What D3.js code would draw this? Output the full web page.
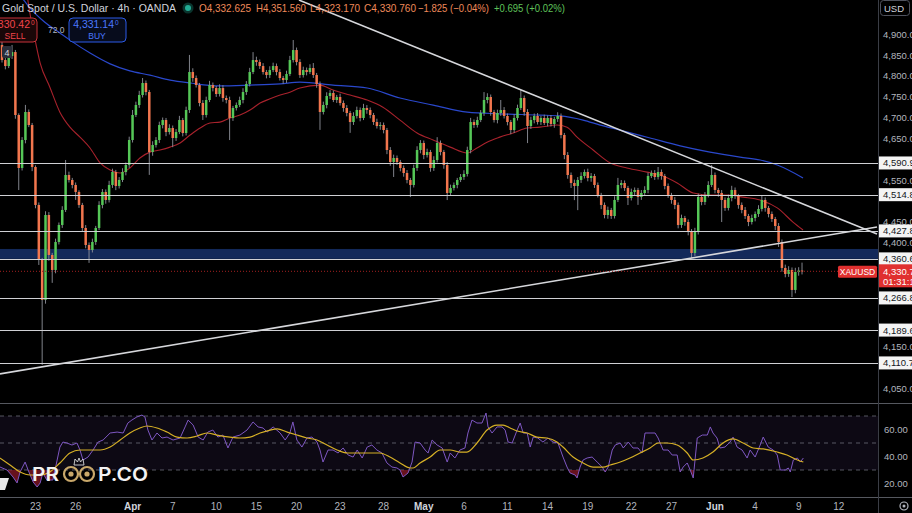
<!DOCTYPE html>
<html>
<head>
<meta charset="utf-8">
<script src="https://cdn.jsdelivr.net/npm/d3@7"></script>
<style>
  body { margin: 0; background: #000; }
  svg { display: block; font-family: "Liberation Sans", Arial, sans-serif; }
</style>
</head>
<body>
<div id="chart"></div>
<script>
// Chart frame
const W = 912, H = 513;
const PLOT_R = 878;          // right edge of the plot, price axis starts here
const MAIN_BOTTOM = 403;
const RSI_TOP = 404, RSI_BOTTOM = 497;

// ---- data ----
const open0 = 4874.2;
const closes = [4838.2,4823.8,4847.8,4857.4,4706.2,4578.9,4646.1,4713.4,4682.1,4581.3,
4490.1,4358.0,4262.0,4466.0,4370.0,4334.0,4401.2,4442.0,4478.1,4562.1,
4550.1,4538.1,4521.3,4490.1,4434.8,4394.0,4382.0,4401.2,4434.8,4490.1,
4521.3,4502.1,4538.1,4569.3,4535.7,4550.1,4569.3,4586.1,4646.1,4706.2,
4730.2,4754.2,4783.0,4761.4,4617.3,4634.1,4646.1,4682.1,4694.1,4665.3,
4674.9,4650.9,4665.3,4694.1,4662.9,4718.2,4809.4,4795.0,4778.2,4735.0,
4706.2,4742.2,4778.2,4770.9,4756.6,4770.9,4747.0,4742.2,4699.0,4723.0,
4730.2,4742.2,4761.4,4780.6,4809.4,4838.2,4833.4,4823.8,4809.4,4802.2,
4814.2,4823.8,4809.4,4795.0,4790.2,4804.6,4838.2,4862.2,4833.4,4802.2,
4814.2,4809.4,4819.0,4802.2,4780.6,4713.4,4730.2,4751.8,4759.0,4742.2,
4749.4,4735.0,4723.0,4711.0,4689.3,4703.8,4718.2,4699.0,4723.0,4718.2,
4706.2,4689.3,4679.7,4682.1,4670.1,4622.1,4593.3,4602.9,4593.3,4578.9,
4566.9,4550.1,4538.1,4578.9,4622.1,4638.9,4610.1,4617.3,4578.9,4598.1,
4638.9,4617.3,4586.1,4518.9,4530.9,4538.1,4550.1,4557.3,4564.5,4622.1,
4689.3,4682.1,4694.1,4711.0,4742.2,4749.4,4713.4,4694.1,4711.0,4718.2,
4703.8,4689.3,4670.1,4699.0,4723.0,4747.0,4713.4,4679.7,4694.1,4703.8,
4689.3,4699.0,4686.9,4699.0,4684.5,4696.6,4703.8,4658.1,4610.1,4562.1,
4542.9,4535.7,4550.1,4559.7,4569.3,4554.9,4559.7,4538.1,4514.1,4490.1,
4466.0,4478.1,4463.6,4502.1,4538.1,4542.9,4530.9,4506.9,4521.3,4526.1,
4509.3,4518.9,4526.1,4559.7,4566.9,4557.3,4569.3,4559.7,4535.7,4514.1,
4502.1,4490.1,4442.0,4458.8,4449.2,4425.2,4374.8,4425.2,4509.3,4497.3,
4514.1,4538.1,4562.1,4526.1,4518.9,4502.1,4482.9,4506.9,4526.1,4511.7,
4490.1,4478.1,4463.6,4449.2,4458.8,4468.4,4480.5,4502.1,4482.9,4468.4,
4456.4,4439.6,4401.2,4338.8,4324.4,4334.0,4286.0,4329.2,4332.6,4330.8];

// wick length above the body top / below the body bottom
const wickUp = [10,6,8,17,5,4,7,17,6,5, 4,6,5,9,7,5,8,6,9,36, 8,5,6,4,5,7,6,8,5,9,
7,6,10,8,5,7,9,6,8,12, 8,10,12,6,5,9,7,8,6,5, 9,6,7,10,5,8,41,9,6,5,
7,8,10,6,5,9,7,6,8,5, 6,8,9,7,10,19,8,6,7,5, 9,8,6,7,5,8,10,24,6,7,
8,6,9,12,5,6,8,9,7,6, 5,8,6,7,5,9,8,6,10,7, 6,5,8,7,6,5,7,8,6,5,
6,7,5,8,9,7,6,8,5,9, 14,6,5,7,8,6,5,7,9,8, 10,6,8,7,19,9,6,5,8,24,
7,6,5,9,8,19,6,7,8,6, 7,5,8,6,7,5,9,6,5,7, 6,8,7,9,6,8,7,5,6,5,
6,8,5,9,17,7,6,5,8,6, 5,7,9,8,6,7,12,6,5,6, 5,7,6,8,5,6,7,10,8,6,
7,9,24,6,5,7,6,8,10,6, 5,6,7,5,8,6,9,10,6,5, 6,5,7,6,8,9,6,10,8,19];
const wickDn = [6,8,5,7,9,53,6,8,5,10, 8,12,156,9,14,31,8,6,7,5, 6,8,19,7,9,8,31,6,7,5,
8,9,6,7,10,6,5,8,7,6, 5,7,6,8,55,9,6,7,8,10, 6,22,7,5,8,6,7,9,6,8,
12,6,5,8,7,6,9,8,53,7, 6,5,8,7,6,5,9,7,6,8, 7,5,8,6,9,7,5,6,8,7,
6,8,5,7,9,43,6,8,7,5, 7,6,9,8,26,7,6,8,5,9, 8,7,6,9,8,10,9,36,7,8,
9,8,29,6,7,8,10,6,9,7, 6,8,9,17,7,6,8,5,7,6, 8,7,6,5,7,8,9,6,8,7,
6,8,10,7,6,5,9,41,7,8, 6,7,5,8,6,9,7,8,10,9, 12,34,58,7,6,8,9,7,6,10,
8,9,7,6,5,8,7,17,6,8, 19,7,6,8,5,7,6,9,8,7, 9,10,8,7,9,8,12,7,6,8,
7,6,5,8,9,53,7,6,8,7, 9,8,7,10,6,8,7,6,9,8, 7,10,12,9,8,7,17,8,9,7.6];

// moving averages [bar, price]
const maRed = [[7.5,4994],[8.7,4934],[9.3,4910],[11.4,4831],[14.3,4773],[17.3,4713],[20.3,4677],[23.3,4653],
[26.3,4627],[29.3,4591],[32.3,4574],[35.3,4567],[38.2,4579],[41.2,4603],[44.2,4617],[47.2,4622],[50.2,4629],
[53.2,4639],[56.2,4658],[59.2,4675],[62.1,4687],[65.1,4689],[68.1,4699],[71.1,4706],[74.1,4718],[77.1,4735],
[80.1,4745],[83.1,4754],[86.0,4761],[89.0,4771],[95.0,4778],[98.9,4766],[104.0,4754],[109.1,4742],[113.8,4725],
[118.9,4694],[124.0,4663],[128.8,4646],[133.9,4629],[139.0,4615],[141.9,4627],[144.9,4641],[148.7,4653],
[152.7,4663],[156.9,4675],[160.7,4677],[165.8,4682],[168.8,4677],[171.8,4653],[176.6,4622],[181.7,4591],
[186.7,4579],[192.7,4569],[196.6,4562],[201.7,4543],[206.5,4519],[211.5,4514],[216.6,4514],[221.4,4509],
[226.5,4502],[231.6,4483],[236.3,4449],[239.3,4430]];
const maBlue = [[5.4,4994],[8.4,4963],[12.8,4929],[17.3,4903],[20.3,4886],[26.3,4855],[32.3,4829],[38.2,4812],
[44.2,4802],[50.2,4790],[56.2,4783],[65.1,4776],[74.1,4778],[83.1,4781],[89.0,4785],[98.9,4778],[109.1,4771],
[118.9,4747],[128.8,4730],[139.0,4713],[148.8,4709],[160.7,4706],[166.7,4704],[173.6,4694],[178.7,4682],
[184.6,4670],[193.6,4651],[202.6,4632],[211.5,4617],[220.5,4605],[226.5,4598],[231.6,4586],[239.3,4555]];

// horizontal levels, zone and trendlines
const levels = [4590.96, 4514.80, 4427.80, 4360.60, 4266.80, 4189.60, 4110.70];
const zone = [4360.6, 4384.4];
const trendDown = [[88.7, 4982.3], [261.4, 4420.4]];
const trendUp = [[-0.6, 4084.3], [261.4, 4437.2]];
const lastPrice = 4330.76;

// RSI [bar, value] and its MA
const rsi = [[-0.6,32.2],[1.5,30.0],[3.3,24.8],[4.5,20.4],[5.4,28.5],[6.9,35.9],[7.8,30.0],[9.3,21.1],[10.5,17.4],
[11.4,20.4],[12.2,27.8],[13.4,22.6],[15.2,22.6],[17.3,47.0],[18.2,50.7],[19.4,50.0],[20.9,48.5],[22.4,50.0],
[23.3,44.8],[24.2,37.4],[25.7,39.6],[27.2,44.8],[28.7,50.7],[30.2,52.2],[32.3,57.4],[34.4,58.1],[36.2,57.4],
[37.6,64.8],[38.8,67.0],[40.3,69.3],[41.8,70.7],[42.7,69.3],[43.6,59.6],[44.8,52.2],[46.3,57.4],[47.8,53.7],
[49.3,54.4],[51.1,52.2],[53.2,53.7],[54.7,61.9],[55.6,67.0],[57.1,63.3],[58.6,54.4],[60.1,52.2],[61.5,58.1],
[63.0,59.6],[64.5,54.4],[66.0,55.9],[67.5,46.3],[69.0,54.4],[71.1,55.9],[73.2,59.6],[75.0,65.6],[76.5,61.9],
[78.0,61.1],[79.2,58.1],[81.0,61.9],[83.1,57.4],[84.6,52.2],[86.0,57.4],[86.9,65.6],[88.1,52.2],[89.6,47.0],
[91.1,53.7],[92.6,54.4],[94.1,50.7],[95.0,44.8],[95.9,35.9],[97.4,44.8],[98.9,44.8],[100.4,42.6],[101.9,46.3],
[103.4,41.1],[104.9,39.6],[106.1,44.8],[107.6,38.9],[109.1,47.0],[110.5,48.5],[112.0,44.8],[113.5,42.6],
[115.0,35.2],[116.5,32.2],[118.0,31.5],[118.9,30.0],[119.8,24.8],[121.3,27.8],[122.5,35.9],[123.4,50.7],
[124.9,50.0],[126.4,44.8],[127.3,42.6],[128.5,52.2],[130.0,48.5],[131.5,46.3],[133.0,35.9],[133.9,42.6],
[135.3,38.9],[136.8,44.8],[138.3,46.3],[139.2,57.4],[140.4,67.0],[141.9,64.8],[143.4,64.8],[144.6,72.2],
[145.2,61.9],[146.4,57.4],[147.9,61.9],[149.4,61.9],[150.3,59.6],[151.2,50.7],[152.4,50.0],[153.9,59.6],
[154.8,64.8],[155.7,57.4],[156.9,57.4],[157.8,47.0],[158.7,54.4],[160.1,53.7],[161.6,50.7],[163.1,53.7],
[164.6,50.7],[166.1,50.0],[167.6,39.6],[168.8,32.2],[169.7,27.8],[171.2,26.3],[171.8,24.1],[172.7,32.2],
[173.6,37.4],[174.8,38.9],[176.3,39.6],[177.8,35.9],[179.3,32.2],[180.2,28.5],[181.1,32.2],[182.3,44.8],
[183.2,48.5],[184.7,50.0],[185.6,46.3],[187.1,50.7],[188.5,46.3],[190.0,46.3],[191.2,42.6],[192.1,57.4],
[193.6,57.4],[195.1,57.4],[196.0,53.7],[197.5,44.8],[199.0,44.8],[200.2,41.1],[201.7,41.1],[202.6,28.5],
[203.5,32.2],[204.7,35.2],[205.6,30.0],[206.5,24.1],[207.7,53.7],[209.2,55.9],[210.7,55.9],[211.6,61.9],
[212.4,57.4],[213.6,53.7],[214.5,46.3],[216.0,47.0],[217.5,50.7],[218.4,54.4],[219.6,47.0],[221.1,44.8],
[222.6,38.9],[223.5,44.8],[225.0,39.6],[226.5,48.5],[227.4,54.4],[228.9,47.0],[230.4,44.8],[231.6,41.1],
[232.5,30.0],[234.0,30.0],[234.9,31.5],[235.5,28.5],[236.4,37.4],[237.6,38.9],[238.5,35.9],[239.4,38.9]];
const rsiMa = [[-0.6,38.9],[2.4,33.7],[5.4,28.5],[8.4,26.3],[11.4,26.3],[14.3,28.5],[17.3,35.2],[20.3,42.6],
[23.3,44.8],[26.3,44.8],[29.3,44.8],[32.3,47.0],[35.3,52.2],[38.2,57.4],[41.2,61.1],[43.3,62.6],[46.3,61.1],
[49.3,58.1],[52.3,54.4],[55.3,53.7],[58.3,55.2],[61.2,57.4],[64.2,55.9],[68.1,54.4],[71.1,53.7],[74.1,54.4],
[77.1,57.4],[80.1,59.6],[82.2,60.4],[85.2,58.1],[88.1,55.9],[91.1,53.7],[94.1,52.2],[97.1,48.5],[100.1,44.8],
[103.1,42.6],[107.0,42.6],[109.9,42.6],[112.9,42.6],[115.9,39.6],[118.9,35.2],[121.9,31.5],[122.8,31.5],
[124.9,35.2],[127.9,39.6],[130.9,44.8],[133.9,44.8],[136.8,43.3],[138.9,43.3],[141.9,50.0],[144.9,59.6],
[147.9,63.3],[149.7,63.3],[151.8,61.1],[153.9,58.9],[156.9,57.4],[159.8,54.4],[162.8,53.7],[165.8,50.7],
[167.6,47.0],[170.6,39.6],[173.6,35.2],[176.6,32.2],[179.6,32.2],[181.7,33.7],[184.7,35.9],[187.6,38.9],
[190.6,42.6],[193.6,46.3],[196.0,50.0],[198.7,50.0],[201.7,48.5],[204.7,42.6],[206.5,37.4],[209.4,38.9],
[212.4,43.3],[215.4,50.0],[218.4,53.0],[221.4,50.0],[224.4,46.3],[227.4,45.6],[231.6,43.3],[234.5,41.1],
[237.6,37.4],[239.4,35.9]];

// time axis labels [bar, text]
const timeLabels = [[10,"23"],[22,"26"],[39,"Apr"],[51,"7"],[64,"10"],[76,"15"],[88,"20"],[101,"23"],[114,"28"],
[126,"May"],[138,"6"],[151,"11"],[163,"14"],[175,"19"],[188,"22"],[200,"27"],[213,"Jun"],[225,"4"],[238,"9"],[250,"12"]];
const priceTicks = d3.range(4050, 4901, 50);
const rsiTicks = [60, 40, 20];
const rsiLevels = [70, 50, 30];

// ---- scales ----
const xScale = d3.scaleLinear().domain([0, 261.4]).range([2, 877]);
const yScale = d3.scaleLinear().domain([4050, 4900]).range([388.2, 34.3]);
const rScale = d3.scaleLinear().domain([20, 60]).range([483.5, 429.5]);

const UP = "#55c757", DOWN = "#f2764e", WICK = "#8f929b";
const fmt = d3.format(",.2f");
const AX_FONT = 9.5;

const svg = d3.select("#chart").append("svg")
  .attr("width", W).attr("height", H)
  .style("background", "#000");

const defs = svg.append("defs");
defs.append("clipPath").attr("id", "clipMain")
  .append("rect").attr("x", 0).attr("y", 0).attr("width", PLOT_R).attr("height", MAIN_BOTTOM);
defs.append("clipPath").attr("id", "clipRsi")
  .append("rect").attr("x", 0).attr("y", RSI_TOP).attr("width", PLOT_R).attr("height", RSI_BOTTOM - RSI_TOP);
defs.append("clipPath").attr("id", "clipLow")
  .append("rect").attr("x", 0).attr("y", rScale(30)).attr("width", PLOT_R).attr("height", RSI_BOTTOM - rScale(30));
defs.append("clipPath").attr("id", "clipHigh")
  .append("rect").attr("x", 0).attr("y", RSI_TOP).attr("width", PLOT_R).attr("height", rScale(70) - RSI_TOP);

const main = svg.append("g").attr("clip-path", "url(#clipMain)");

// blue demand zone
main.append("rect")
  .attr("x", 0).attr("width", PLOT_R)
  .attr("y", yScale(zone[1])).attr("height", yScale(zone[0]) - yScale(zone[1]))
  .attr("fill", "#13295a");

// moving averages
const maLine = d3.line().x(d => xScale(d[0])).y(d => yScale(d[1])).curve(d3.curveMonotoneX);
main.append("path").attr("d", maLine(maBlue)).attr("fill", "none").attr("stroke", "#2a48cc").attr("stroke-width", 1.2);
main.append("path").attr("d", maLine(maRed)).attr("fill", "none").attr("stroke", "#a8222c").attr("stroke-width", 1.1);

// candles
const candles = closes.map((c, i) => {
  const o = i === 0 ? open0 : closes[i - 1];
  return { i, o, c, h: Math.max(o, c) + wickUp[i], l: Math.min(o, c) - wickDn[i] };
});
const cg = main.append("g");
cg.selectAll("line.wick").data(candles).enter().append("line")
  .attr("class", "wick")
  .attr("x1", d => xScale(d.i)).attr("x2", d => xScale(d.i))
  .attr("y1", d => yScale(d.h)).attr("y2", d => yScale(d.l))
  .attr("stroke", WICK).attr("stroke-width", 0.9);
cg.selectAll("rect.body").data(candles).enter().append("rect")
  .attr("class", "body")
  .attr("x", d => xScale(d.i) - 1.25).attr("width", 2.5)
  .attr("y", d => yScale(Math.max(d.o, d.c)))
  .attr("height", d => Math.max(1, Math.abs(yScale(d.o) - yScale(d.c))))
  .attr("fill", d => d.c >= d.o ? UP : DOWN);

// horizontal levels
main.selectAll("line.level").data(levels).enter().append("line")
  .attr("class", "level")
  .attr("x1", 0).attr("x2", PLOT_R)
  .attr("y1", d => Math.round(yScale(d)) + 0.5).attr("y2", d => Math.round(yScale(d)) + 0.5)
  .attr("stroke", "#cfd0d4").attr("stroke-width", 1);

// trendlines
const tl = d3.line().x(d => xScale(d[0])).y(d => yScale(d[1]));
[trendDown, trendUp].forEach(t => {
  main.append("path").attr("d", tl(t)).attr("fill", "none")
    .attr("stroke", "#d6d7db").attr("stroke-width", 1.6);
});

// last price dotted line
main.append("line")
  .attr("x1", 0).attr("x2", 838)
  .attr("y1", yScale(lastPrice)).attr("y2", yScale(lastPrice))
  .attr("stroke", "#a32020").attr("stroke-width", 1).attr("stroke-dasharray", "1,2");

// small "4" marker
main.append("rect").attr("x", 2).attr("y", 46).attr("width", 10).attr("height", 12).attr("rx", 2).attr("fill", "#2a2e39");
main.append("text").attr("x", 7).attr("y", 55.5).attr("text-anchor", "middle")
  .attr("font-size", 9).attr("fill", "#d1d4dc").text("4");

// ---- RSI pane ----
const rg = svg.append("g").attr("clip-path", "url(#clipRsi)");
rg.append("rect").attr("x", 0).attr("width", PLOT_R)
  .attr("y", rScale(70)).attr("height", rScale(30) - rScale(70))
  .attr("fill", "#7e57c2").attr("opacity", 0.1);
rg.selectAll("line.rl").data(rsiLevels).enter().append("line")
  .attr("class", "rl")
  .attr("x1", 0).attr("x2", PLOT_R)
  .attr("y1", d => rScale(d)).attr("y2", d => rScale(d))
  .attr("stroke", "#787b86").attr("stroke-opacity", 0.7).attr("stroke-dasharray", "4,4");

rg.append("path")
  .attr("d", d3.area().x(d => xScale(d[0])).y0(rScale(30)).y1(d => rScale(d[1]))(rsi))
  .attr("fill", "#9c1c2c").attr("opacity", 0.65).attr("clip-path", "url(#clipLow)");
rg.append("path")
  .attr("d", d3.area().x(d => xScale(d[0])).y0(rScale(70)).y1(d => rScale(d[1]))(rsi))
  .attr("fill", "#1b8a5a").attr("opacity", 0.5).attr("clip-path", "url(#clipHigh)");

const rl = d3.line().x(d => xScale(d[0])).y(d => rScale(d[1]));
rg.append("path").attr("d", rl(rsi)).attr("fill", "none").attr("stroke", "#7e57c2").attr("stroke-width", 1);
rg.append("path").attr("d", rl.curve(d3.curveMonotoneX)(rsiMa)).attr("fill", "none")
  .attr("stroke", "#d6b026").attr("stroke-width", 1.2);

// pane separators and axis border
svg.append("line").attr("x1", 0).attr("x2", W).attr("y1", 403.5).attr("y2", 403.5).attr("stroke", "#55585f");
svg.append("line").attr("x1", 0).attr("x2", W).attr("y1", 497.5).attr("y2", 497.5).attr("stroke", "#55585f");
svg.append("line").attr("x1", PLOT_R + 0.5).attr("x2", PLOT_R + 0.5).attr("y1", 0).attr("y2", H).attr("stroke", "#3a3d45");

// ---- logo watermark ----
const logo = svg.append("g");
logo.append("path").attr("d", "M0,478 L9,478 L5,490 L0,490 Z").attr("fill", "#e8e8e8");
logo.append("text").attr("x", 32).attr("y", 481).attr("font-size", 19).attr("font-weight", 600)
  .attr("font-family", "Inter, sans-serif").attr("fill", "#f2f2f2")
  .attr("textLength", 27).attr("lengthAdjust", "spacingAndGlyphs").text("PR");
[71, 87].forEach(cx => {
  logo.append("circle").attr("cx", cx).attr("cy", 474).attr("r", 7).attr("fill", "none")
    .attr("stroke", "#c9a86a").attr("stroke-width", 2.2);
  logo.append("circle").attr("cx", cx).attr("cy", 474).attr("r", 2.6).attr("fill", "#c9a86a");
});
logo.append("path").attr("d", "M74,465 L75,459 L77.5,462 L79,458 L80.5,462 L83,459 L84,465 Z")
  .attr("fill", "none").attr("stroke", "#d8d8d8").attr("stroke-width", 0.9);
logo.append("text").attr("x", 98).attr("y", 481).attr("font-size", 19).attr("font-weight", 600)
  .attr("font-family", "Inter, sans-serif").attr("fill", "#f2f2f2")
  .attr("textLength", 50).attr("lengthAdjust", "spacingAndGlyphs").text("P.CO");

// ---- price axis ----
// label boxes sit on top of the scale: skip ticks they cover
const yP = yScale(lastPrice);
const covered = levels.map(yScale).concat([yP, yP + 8]);
const axis = svg.append("g").attr("font-size", AX_FONT);
axis.selectAll("text.tick")
  .data(priceTicks.filter(p => covered.every(c => Math.abs(yScale(p) - c) > 9)))
  .enter().append("text")
  .attr("class", "tick")
  .attr("x", 883).attr("y", d => yScale(d) + 3.5)
  .attr("fill", "#b2b5be").text(d => fmt(d));

axis.selectAll("g.lvl").data(levels).enter().append("g")
  .attr("class", "lvl")
  .each(function (d) {
    const g = d3.select(this), y = yScale(d);
    g.append("rect").attr("x", 879).attr("y", y - 6.5).attr("width", 33).attr("height", 13).attr("fill", "#f4f4f4");
    g.append("text").attr("x", 883).attr("y", y + 3.5).attr("fill", "#131722").text(fmt(d));
  });

// last price labels
svg.append("rect").attr("x", 838).attr("y", yP - 5.5).attr("width", 39).attr("height", 12).attr("rx", 1.5).attr("fill", "#e0302f");
svg.append("text").attr("x", 857.5).attr("y", yP + 3.5).attr("text-anchor", "middle")
  .attr("font-size", 8.5).attr("fill", "#fff").text("XAUUSD");
svg.append("rect").attr("x", 879).attr("y", yP - 7).attr("width", 33).attr("height", 23).attr("fill", "#e0302f");
svg.append("text").attr("x", 883).attr("y", yP + 3.5).attr("font-size", AX_FONT).attr("fill", "#fff").text(fmt(lastPrice));
svg.append("text").attr("x", 883).attr("y", yP + 13.5).attr("font-size", AX_FONT).attr("fill", "#fff").text("01:31:16");

// USD box
svg.append("rect").attr("x", 880.5).attr("y", 0.5).attr("width", 29).attr("height", 15).attr("rx", 3)
  .attr("fill", "#000").attr("stroke", "#50535e");
svg.append("text").attr("x", 884).attr("y", 11.5).attr("font-size", AX_FONT).attr("fill", "#d1d4dc").text("USD");

// RSI axis
svg.selectAll("text.rt").data(rsiTicks).enter().append("text")
  .attr("class", "rt")
  .attr("x", 884).attr("y", d => rScale(d) + 3.5)
  .attr("font-size", AX_FONT).attr("fill", "#b2b5be").text(d => d.toFixed(2));

// time axis
svg.selectAll("text.tl").data(timeLabels).enter().append("text")
  .attr("class", "tl")
  .attr("x", d => xScale(d[0])).attr("y", 509.5).attr("text-anchor", "middle")
  .attr("font-size", 10)
  .attr("font-weight", d => isNaN(+d[1]) ? 700 : 400)
  .attr("fill", d => isNaN(+d[1]) ? "#d1d4dc" : "#b2b5be")
  .text(d => d[1]);
svg.append("circle").attr("cx", 904).attr("cy", 506).attr("r", 4).attr("fill", "none").attr("stroke", "#b2b5be").attr("stroke-width", 1.2);
svg.append("circle").attr("cx", 904).attr("cy", 506).attr("r", 1.5).attr("fill", "#b2b5be");

// ---- header ----
const head = svg.append("g").attr("font-size", 11);
head.append("text").attr("x", 2).attr("y", 12).attr("fill", "#d1d4dc")
  .attr("textLength", 174).attr("lengthAdjust", "spacingAndGlyphs")
  .text("Gold Spot / U.S. Dollar · 4h · OANDA");
head.append("circle").attr("cx", 188).attr("cy", 8).attr("r", 5.5).attr("fill", "#22ab94").attr("opacity", 0.3);
head.append("circle").attr("cx", 188).attr("cy", 8).attr("r", 3).attr("fill", "#22ab94");
const ohlc = [[199, 52, "O4,332.625"], [256, 50, "H4,351.560"], [310, 50, "L4,323.170"],
              [364, 52, "C4,330.760"], [418, 71, "−1.825 (−0.04%)"]];
ohlc.forEach(([x, w, t]) => {
  head.append("text").attr("x", x).attr("y", 12).attr("fill", "#ef8a5a")
    .attr("textLength", w).attr("lengthAdjust", "spacingAndGlyphs").text(t);
});
head.append("text").attr("x", 494).attr("y", 12).attr("fill", "#5fc25a")
  .attr("textLength", 71).attr("lengthAdjust", "spacingAndGlyphs").text("+0.695 (+0.02%)");

// SELL / BUY boxes
const sell = svg.append("g");
sell.append("rect").attr("x", -4).attr("y", 18).attr("width", 41).attr("height", 24).attr("rx", 4)
  .attr("fill", "#1a0708").attr("stroke", "#c8333a");
sell.append("text").attr("x", 30).attr("y", 28).attr("text-anchor", "end").attr("font-size", 10.5).attr("fill", "#f0454b")
  .text(",330.42");
sell.append("text").attr("x", 31).attr("y", 25).attr("font-size", 6.5).attr("fill", "#f0454b").text("0");
sell.append("text").attr("x", 15).attr("y", 38.5).attr("text-anchor", "middle").attr("font-size", 8.5).attr("fill", "#f0454b").text("SELL");
svg.append("text").attr("x", 48).attr("y", 33).attr("font-size", 8.5).attr("fill", "#b2b5be").text("72.0");
const buy = svg.append("g");
buy.append("rect").attr("x", 69).attr("y", 18).attr("width", 57).attr("height", 24).attr("rx", 4)
  .attr("fill", "#070c1c").attr("stroke", "#2c5be8");
buy.append("text").attr("x", 114).attr("y", 28).attr("text-anchor", "end").attr("font-size", 10.5).attr("fill", "#4a78ff")
  .text("4,331.14");
buy.append("text").attr("x", 115).attr("y", 25).attr("font-size", 6.5).attr("fill", "#4a78ff").text("0");
buy.append("text").attr("x", 97).attr("y", 38.5).attr("text-anchor", "middle").attr("font-size", 8.5).attr("fill", "#4a78ff").text("BUY");
</script>
</body>
</html>
